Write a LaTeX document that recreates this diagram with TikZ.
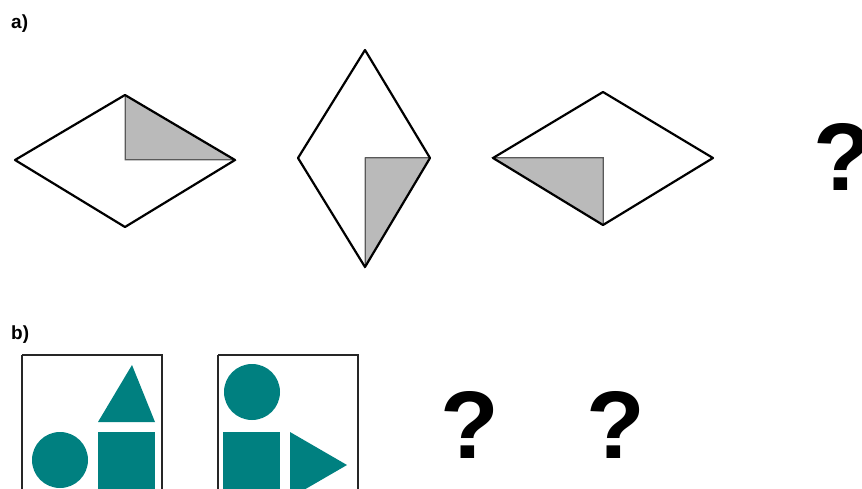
\documentclass[tikz,border=0pt]{standalone}
\usepackage{fontspec}
\setmainfont{Liberation Sans}
\begin{document}
\begin{tikzpicture}[x=1pt,y=-1pt,
  outline/.style={draw=black,line width=2.2pt,line join=round},
  fold/.style={fill=black!27,draw=black!65,line width=1pt},
  tealfill/.style={fill=tealc,draw=none},
  qmark/.style={inner sep=0pt,anchor=base,font=\fontsize{96}{96}\selectfont\bfseries},
  lbl/.style={inner sep=0pt,anchor=base west,font=\fontsize{19}{19}\selectfont\bfseries},
  frame/.style={draw=black!85,line width=2.2pt}]
\definecolor{tealc}{RGB}{0,128,128}
\useasboundingbox (0,0) rectangle (862,489);
\clip (0,0) rectangle (862,489);
% labels
\node[lbl] (la) at (11,29) {a)};
\node[lbl] (lb) at (11,339) {b)};
% diamond 1
\fill[fold] (125,95) -- (125,160) -- (235,160) -- cycle;
\draw[fold,fill=none] (125,95) -- (125,160) -- (235,160);
\draw[outline] (15,160) -- (125,95) -- (235,160) -- (125,227) -- cycle;
% diamond 2
\fill[fold] (365,158) -- (430,158) -- (365,267) -- cycle;
\draw[fold,fill=none] (430,158) -- (365,158) -- (365,267);
\draw[outline] (365,50) -- (430,158) -- (365,267) -- (298,158) -- cycle;
% diamond 3
\fill[fold] (493,158) -- (603,158) -- (603,225) -- cycle;
\draw[fold,fill=none] (493,158) -- (603,158) -- (603,225);
\draw[outline] (493,158) -- (603,92) -- (713,158) -- (603,225) -- cycle;
% question marks
\node[qmark] (q1) at (843,191) {?};
\node[qmark] (q2) at (470,458) {?};
\node[qmark] (q3) at (616,458) {?};
% box 1
\draw[frame] (22,355) -- (22,500) (22,355) -- (162,355) -- (162,500);
\fill[tealfill] (98,422) -- (132,365) -- (155,422) -- cycle;
\fill[tealfill] (98,432) rectangle (155,500);
\fill[tealfill] (60,460) circle (28);
% box 2
\draw[frame] (218,355) -- (218,500) (218,355) -- (358,355) -- (358,500);
\fill[tealfill] (252,392) circle (28);
\fill[tealfill] (223,432) rectangle (280,500);
\fill[tealfill] (290,432) -- (347,465) -- (290,498) -- cycle;
\end{tikzpicture}
\end{document}
